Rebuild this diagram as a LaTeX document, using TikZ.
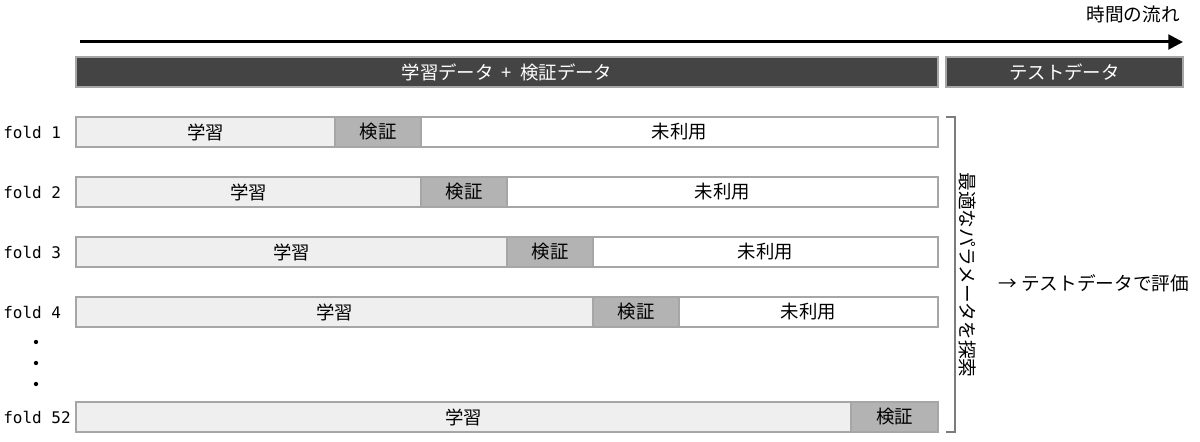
\documentclass[tikz,border=0pt]{standalone}
\usepackage{fontspec}
\setmainfont{Noto Sans CJK JP}
\newfontfamily\foldfont{DejaVu Sans Mono}
\usetikzlibrary{positioning,arrows.meta}
\definecolor{darkbar}{HTML}{444444}
\definecolor{segline}{HTML}{A6A6A6}
\definecolor{trainfill}{HTML}{EFEFEF}
\definecolor{valfill}{HTML}{B3B3B3}
\tikzset{
  w/.style={minimum width=#1*0.75pt},
  seg/.style={draw=segline, line width=1.5pt, minimum height=22.5pt, inner sep=0pt, outer sep=0pt, anchor=west,
    font=\fontsize{13.8pt}{16pt}\selectfont},
  train/.style={seg, fill=trainfill},
  val/.style={seg, fill=valfill},
  unused/.style={seg, fill=white},
  topbar/.style={seg, fill=darkbar, text=white},
  foldlbl/.style={anchor=west, inner sep=0pt, font=\foldfont\fontsize{12pt}{14pt}\selectfont},
  jtxt/.style={inner sep=0pt, font=\fontsize{14pt}{16pt}\selectfont},
  dot/.style={circle, fill=black, inner sep=0pt, minimum size=3.2pt}
}
\begin{document}
\begin{tikzpicture}[x=0.75pt, y=-0.75pt]
        \useasboundingbox (0,0) rectangle (1200,442);

        % Axe du temps
        \coordinate (ts) at (80,42);
        \coordinate (te) at (1183,42);
        \draw[line width=2.25pt, -{Triangle[length=11pt,width=11pt]}] (ts) -- (te);
        \node[jtxt] (time) at (1133,14) {時間の流れ};

        % Bandeaux du haut
        \node[topbar, w=862] (trval) at (76,72) {学習データ\hspace{0.45em}+\hspace{0.45em}検証データ};
        \node[topbar, w=237] (test) at (946,72) {テストデータ};

        % folds 1 -- 4
        \foreach \i/\yy in {1/132, 2/192, 3/252, 4/312}{
            \pgfmathsetmacro\tw{259+86*(\i-1)}
            \pgfmathsetmacro\uw{938-76-\tw-86}
            \node[foldlbl] (lbl\i) at (3,\yy) {fold \i};
            \node[train, w=\tw] (tr\i) at (76,\yy) {学習};
            \node[val, w=86, right=0pt of tr\i] (va\i) {検証};
            \node[unused, w=\uw, right=0pt of va\i] (un\i) {未利用};
        }

        % points de suspension
        \foreach \j/\yy in {1/342, 2/363, 3/384}{
            \node[dot] (dot\j) at (36,\yy) {};
        }

        % fold 52
        \node[foldlbl] (lbl52) at (3,417) {fold 52};
        \node[train, w=775] (tr52) at (76,417) {学習};
        \node[val, w=87, right=0pt of tr52] (va52) {検証};

        % Accolade + textes de droite
        \draw[segline!75!black, line width=1.5pt] ([xshift=6pt]un1.north east) -| ([xshift=12.75pt]va52.south east) -- ([xshift=6pt]va52.south east);
        \node[jtxt, rotate=-90] (search) at (968,275) {最適なパラメータを探索};
        \node[jtxt, anchor=west] (eval) at (998,283) {→ テストデータで評価};

    \end{tikzpicture}
\end{document}
